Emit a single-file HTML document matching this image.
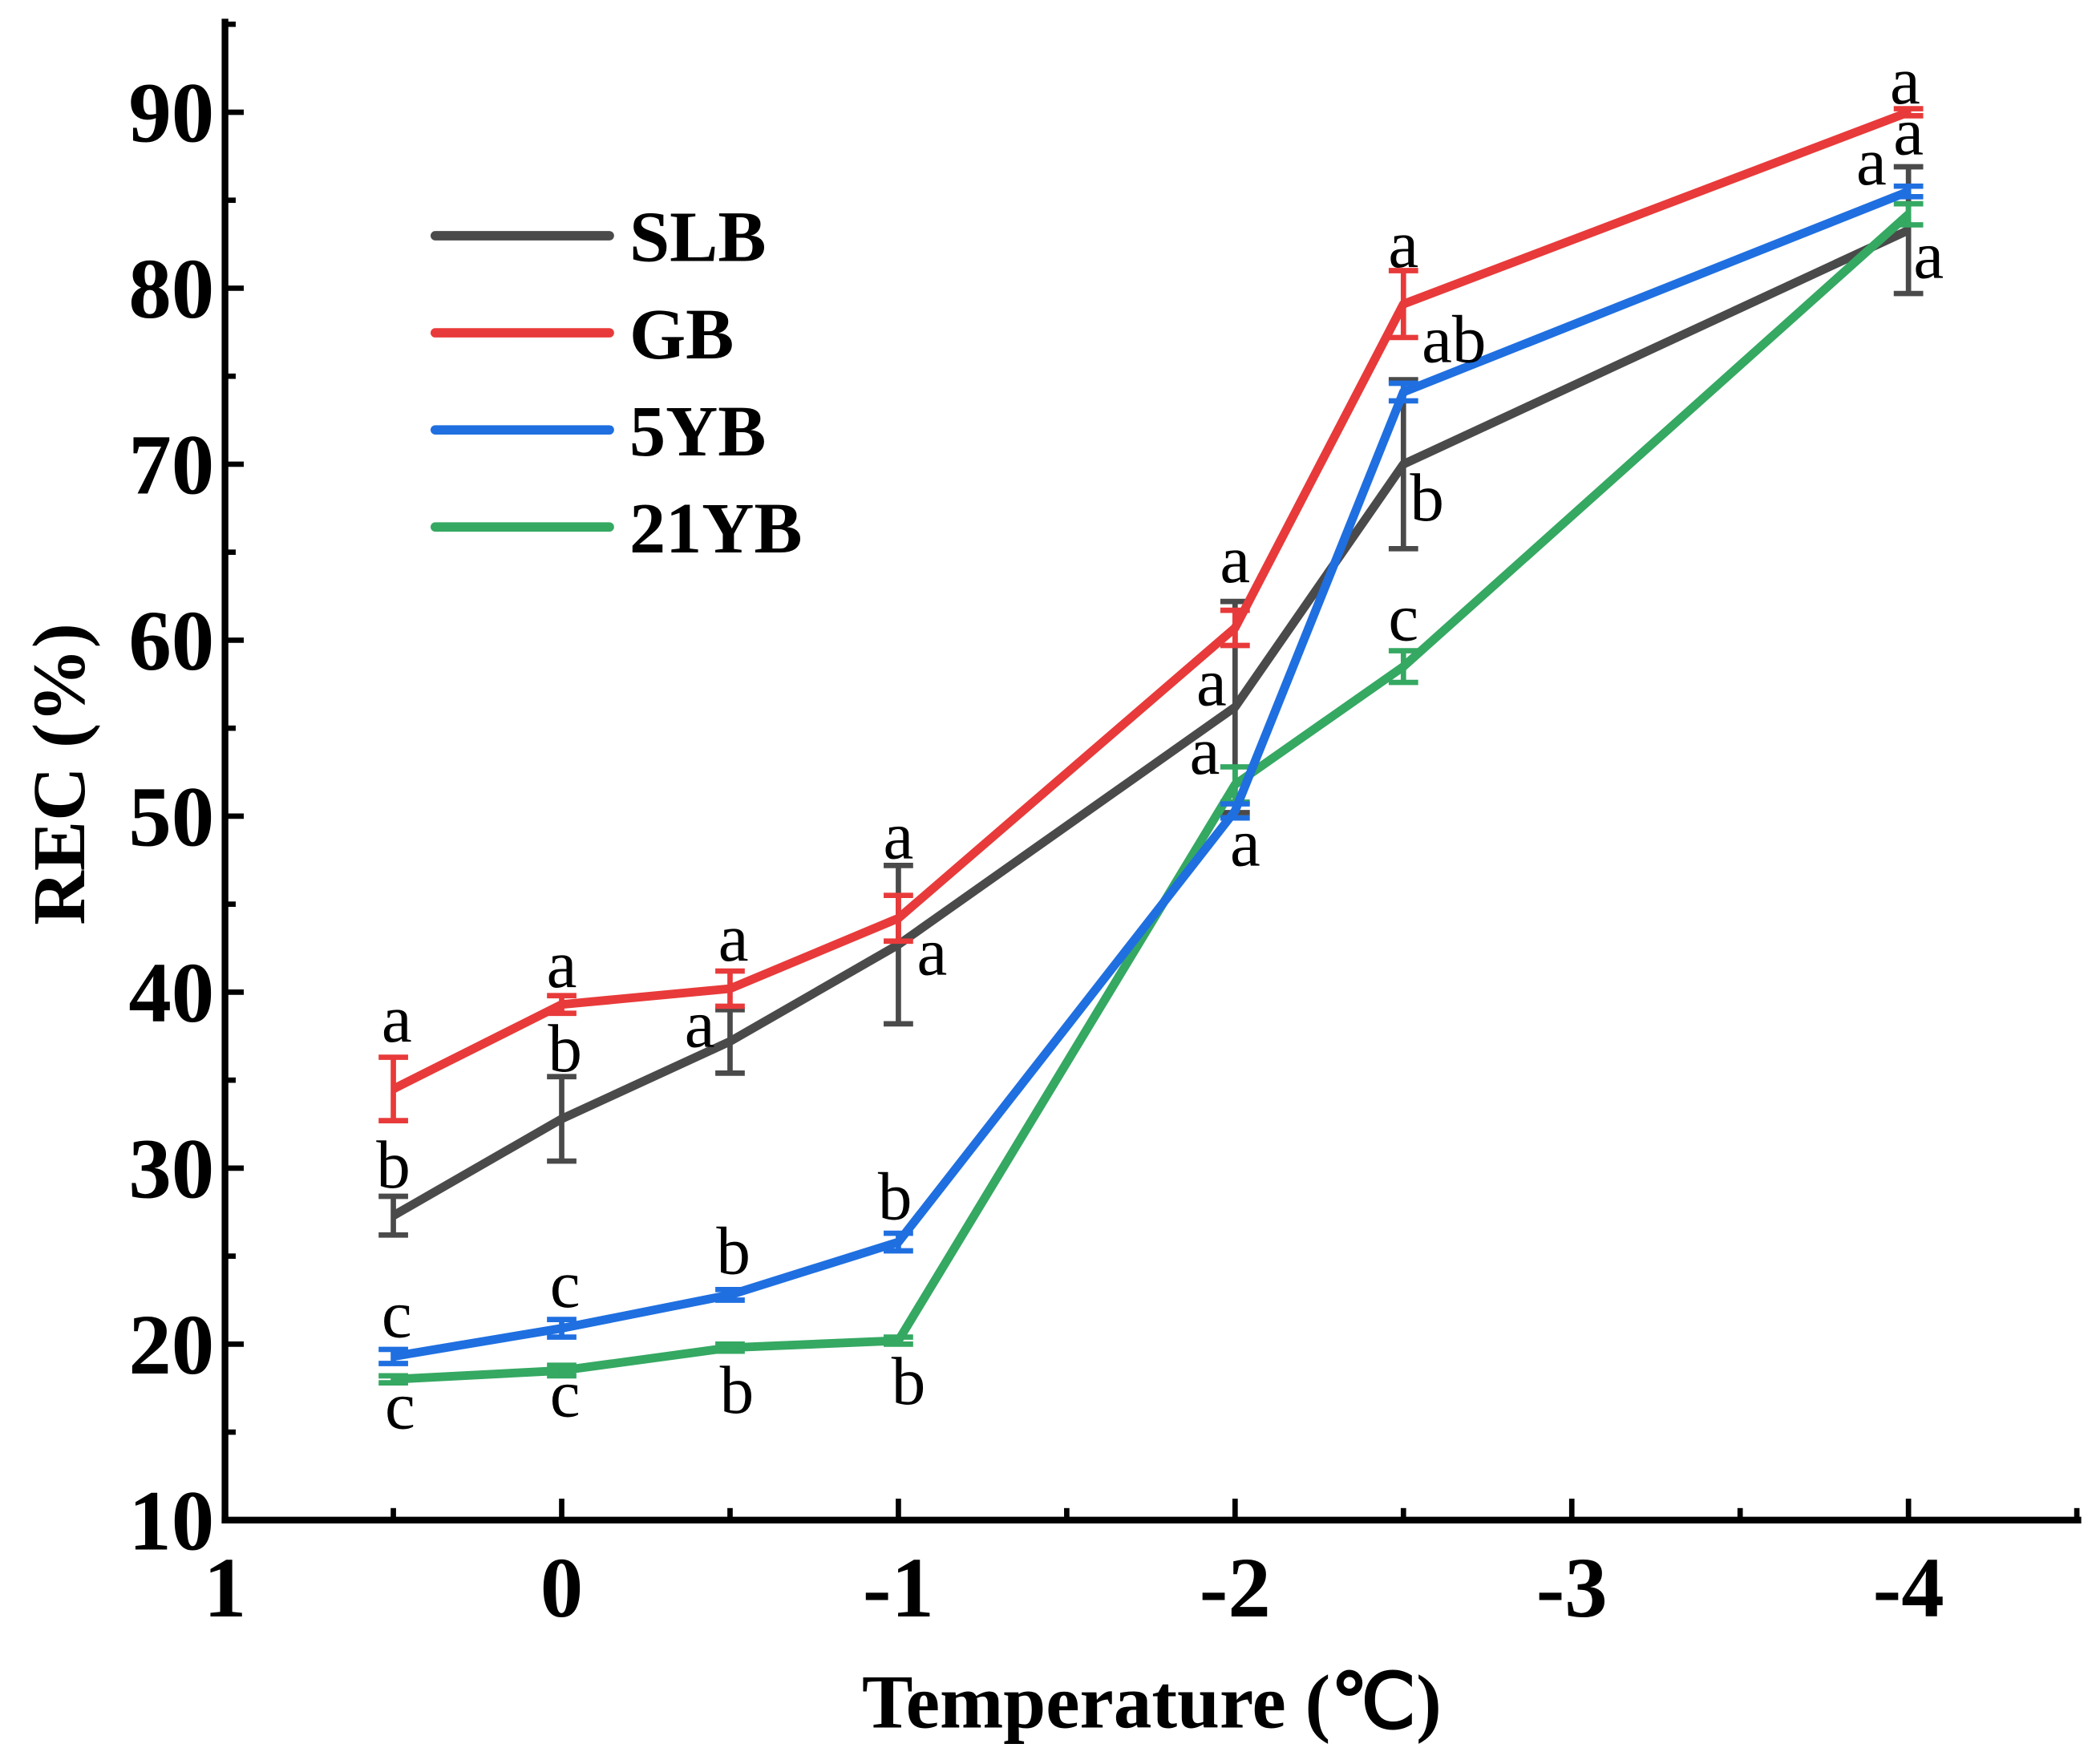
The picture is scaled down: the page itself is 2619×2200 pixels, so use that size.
<!DOCTYPE html>
<html><head><meta charset="utf-8"><style>
html,body{margin:0;padding:0;background:#fff;}
svg{display:block;}
</style></head><body>
<svg id="chart" width="2619" height="2200" viewBox="0 0 1568 1317.1" preserveAspectRatio="none" xmlns="http://www.w3.org/2000/svg" font-family="'Liberation Serif', serif">
<g id="axes"></g>
<g id="marks"></g>
<g id="legend"></g>
<text transform="translate(63,578) rotate(-90)" text-anchor="middle" font-weight="bold" font-size="56">REC (%)</text>
<text x="860" y="1290" text-anchor="middle" font-weight="bold" font-size="57">Temperature (℃)</text>
</svg>
<script>
const xTickValues = [1, 0, -1, -2, -3, -4];
const xTickLabels = ["1", "0", "-1", "-2", "-3", "-4"];
const yTickValues = [10, 20, 30, 40, 50, 60, 70, 80, 90];
const temps = [0.5, 0, -0.5, -1, -2, -2.5, -4];
const seriesNames = ["SLB", "GB", "5YB", "21YB"];
const seriesColors = ["#4a4a4a", "#e83a3a", "#1f6fe0", "#35a862"];
const slb = [27.3, 32.8, 37.2, 42.7, 56.2, 70.0, 83.3];
const slbErr = [1.1, 2.4, 1.8, 4.5, 6.0, 4.8, 3.6];
const gb = [34.5, 39.3, 40.2, 44.2, 60.7, 79.1, 90.0];
const gbErr = [1.8, 0.5, 1.0, 1.3, 1.0, 1.9, 0.2];
const yb5 = [19.3, 20.9, 22.8, 25.8, 50.3, 74.1, 85.5];
const yb5Err = [0.4, 0.5, 0.3, 0.5, 0.4, 0.5, 0.3];
const yb21 = [18.0, 18.5, 19.8, 20.2, 51.8, 58.5, 84.2];
const yb21Err = [0.2, 0.3, 0.2, 0.2, 1.0, 0.9, 0.6];
const slbLetters = ["b", "b", "a", "a", "a", "b", "a"];
const gbLetters = ["a", "a", "a", "a", "a", "a", "a"];
const yb5Letters = ["c", "c", "b", "b", "a", "ab", "a"];
const yb21Letters = ["c", "c", "b", "b", "a", "c", "a"];
// letter label positions (in data units: temperature, REC baseline)
const slbLetterPos = [[0.5,28.9],[-0.01,35.5],[-0.41,36.9],[-1.1,41.0],[-1.93,56.3],[-2.57,66.8],[-4.06,80.6]];
const gbLetterPos = [[0.49,37.2],[0,40.3],[-0.51,41.8],[-1,47.6],[-2,63.3],[-2.5,81.2],[-3.99,90.5]];
const yb5LetterPos = [[0.49,20.4],[-0.01,22.1],[-0.51,24.0],[-0.99,27.1],[-2.03,47.2],[-2.65,75.8],[-3.89,85.9]];
const yb21LetterPos = [[0.48,15.2],[-0.01,15.9],[-0.52,16.1],[-1.03,16.6],[-1.91,52.4],[-2.5,60.0],[-4,87.6]];

const X0 = 168, Y0 = 1135;
const xScale = v => X0 + (1 - v) * 251.4;
const yScale = v => Y0 - (v - 10) * 13.14;
const NS = "http://www.w3.org/2000/svg";
function mk(tag, attrs, parent) {
  const e = document.createElementNS(NS, tag);
  for (const k in attrs) e.setAttribute(k, attrs[k]);
  parent.appendChild(e);
  return e;
}
const axes = document.getElementById("axes");
const marks = document.getElementById("marks");
const legend = document.getElementById("legend");

let yl = mk("line", {x1: X0, y1: 14, x2: X0, y2: Y0 + 2.5, stroke: "#000", "stroke-width": 5}, axes);


let xl = mk("line", {x1: X0 - 2.5, y1: Y0, x2: 1554, y2: Y0, stroke: "#000", "stroke-width": 5}, axes);



for (let v = 15; v <= 95; v += 5) {
  const major = v % 10 === 0;
  const t = mk("line", {x1: X0, y1: yScale(v), x2: X0 + (major ? 14 : 8), y2: yScale(v), stroke: "#000", "stroke-width": 4}, axes);
  
  
}
yTickValues.forEach(v => {
  const t = mk("text", {x: 160, y: yScale(v) + 22, "text-anchor": "end", "font-weight": "bold", "font-size": 64}, axes);
  t.textContent = String(v);
  
  
});
for (let v = 0.5; v >= -4.5; v -= 0.5) {
  const major = Number.isInteger(v);
  const t = mk("line", {x1: xScale(v), y1: Y0, x2: xScale(v), y2: Y0 - (major ? 16 : 9), stroke: "#000", "stroke-width": 4}, axes);
  
  
}
xTickValues.forEach((v, i) => {
  const t = mk("text", {x: xScale(v), y: 1207, "text-anchor": "middle", "font-weight": "bold", "font-size": 64}, axes);
  t.textContent = xTickLabels[i];
  
  
});

const allVals = [slb, gb, yb5, yb21];
const allErr = [slbErr, gbErr, yb5Err, yb21Err];
const allLetters = [slbLetters, gbLetters, yb5Letters, yb21Letters];
const allPos = [slbLetterPos, gbLetterPos, yb5LetterPos, yb21LetterPos];
const order = [0, 3, 2, 1];
order.forEach(s => {
  const g = mk("g", {}, marks);
  
  
  const col = seriesColors[s];
  const pts = temps.map((t, i) => xScale(t) + "," + yScale(allVals[s][i])).join(" ");
  const pl = mk("polyline", {points: pts, fill: "none", stroke: col, "stroke-width": 6.5, "stroke-linejoin": "round"}, g);
  
  
  temps.forEach((t, i) => {
    const x = xScale(t), hi = yScale(allVals[s][i] + allErr[s][i]), lo = yScale(allVals[s][i] - allErr[s][i]);
    const eb = mk("path", {d: `M${x},${hi}V${lo}M${x-11},${hi}H${x+11}M${x-11},${lo}H${x+11}`, stroke: col, "stroke-width": 4, fill: "none"}, g);
    
    
  });
});
order.forEach(s => {
  allPos[s].forEach((p, i) => {
    const t = mk("text", {x: xScale(p[0]), y: yScale(p[1]), "text-anchor": "middle", "font-size": 51}, marks);
    t.textContent = allLetters[s][i];
    
    
  });
});

seriesNames.forEach((n, i) => {
  const y = 176 + i * 72.5;
  const g = mk("g", {}, legend);
  
  
  mk("line", {x1: 325, y1: y, x2: 455, y2: y, stroke: seriesColors[i], "stroke-width": 7, "stroke-linecap": "round"}, g);
  const t = mk("text", {x: 470, y: y + 19, "font-weight": "bold", "font-size": 54}, g);
  t.textContent = n;
});
</script>
</body></html>
